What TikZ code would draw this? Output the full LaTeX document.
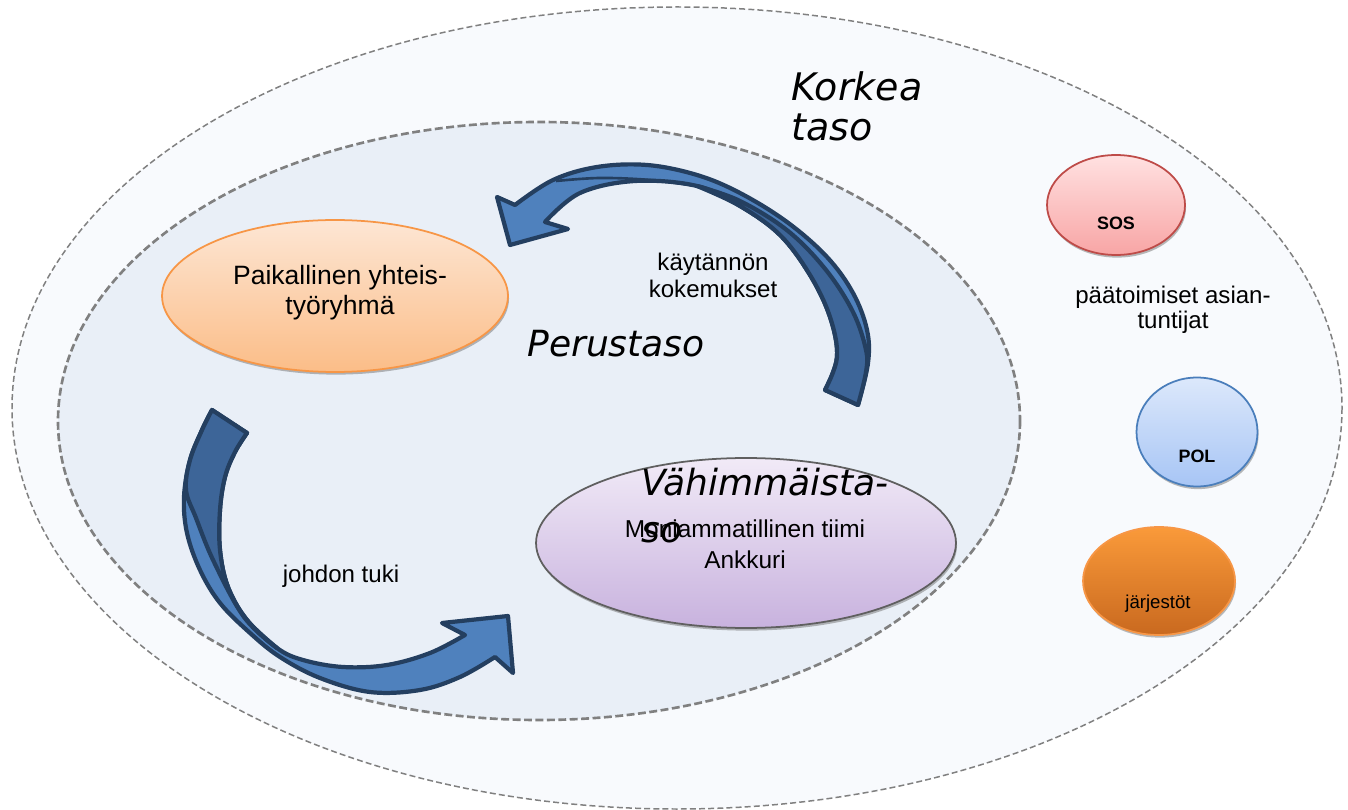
\documentclass[tikz,border=0pt]{standalone}
\usepackage{fontspec}
\setmainfont{Liberation Sans}
\newfontfamily\verdfont{DejaVu Sans}
\usetikzlibrary{shapes.geometric,shadows}

\definecolor{tasoulko}{HTML}{F8FAFD}
\definecolor{tasosisa}{HTML}{E9EFF7}
\definecolor{viiva}{HTML}{808080}
\definecolor{nuolitumma}{HTML}{3D6598}
\definecolor{nuolivaalea}{HTML}{4F81BD}
\definecolor{nuolireuna}{HTML}{243F60}
\definecolor{oranssireuna}{HTML}{F79646}
\definecolor{oranssiyla}{HTML}{FDE6D4}
\definecolor{oranssiala}{HTML}{FBBD88}
\definecolor{violettireuna}{HTML}{5F5F5F}
\definecolor{violettiyla}{HTML}{F1EAF7}
\definecolor{violettiala}{HTML}{C8B2DE}
\definecolor{punainenreuna}{HTML}{BE4B48}
\definecolor{punainenyla}{HTML}{FFE1E1}
\definecolor{punainenala}{HTML}{F8A5A5}
\definecolor{sininenreuna}{HTML}{4A7EBB}
\definecolor{sininenyla}{HTML}{DCE8FB}
\definecolor{sininenala}{HTML}{A7C5F5}
\definecolor{jarjestoyla}{HTML}{FA9A3A}
\definecolor{jarjestoala}{HTML}{C9691F}

\tikzset{
  kupla/.style={ellipse, inner sep=0pt, line width=1pt,
    drop shadow={shadow xshift=0.6pt, shadow yshift=-1.5pt, fill=black!55, opacity=0.5}},
  nuoli/.style={draw=nuolireuna, line width=2.4pt, line join=round},
  teksti/.style={inner sep=0pt, align=center, font=\fontsize{13.7}{15.4}\selectfont},
  pieni/.style={inner sep=0pt, font=\fontsize{10.2}{12}\selectfont},
  taso/.style={inner sep=0pt, align=left, font=\verdfont\itshape\fontsize{20.5}{26.7}\selectfont}
}

\begin{document}
\begin{tikzpicture}[x=0.02cm, y=-0.02cm]
\useasboundingbox (0,0) rectangle (1348,810);
\fill[white] (0,0) rectangle (1348,810);
% Korkea taso
\filldraw[fill=tasoulko, draw=viiva, line width=0.85pt, dash pattern=on 3.4pt off 1.8pt] (677,408) ellipse [x radius=665, y radius=401];
% Perustaso
\filldraw[fill=tasosisa, draw=viiva, line width=1.5pt, dash pattern=on 4.5pt off 2pt] (539,421) ellipse [x radius=481, y radius=299];
% Ryhmat
\node[kupla, draw=oranssireuna, top color=oranssiyla, bottom color=oranssiala, minimum width=6.92cm, minimum height=3.04cm] (paikallinen) at (335,296) {};
\node[kupla, draw=violettireuna, top color=violettiyla, bottom color=violettiala, minimum width=8.4cm, minimum height=3.4cm] (ankkuri) at (746,543) {};
\node[kupla, draw=punainenreuna, top color=punainenyla, bottom color=punainenala, minimum width=2.76cm, minimum height=2cm] (sos) at (1116,205) {};
\node[kupla, draw=sininenreuna, top color=sininenyla, bottom color=sininenala, minimum width=2.42cm, minimum height=2.18cm] (pol) at (1197,432) {};
\node[kupla, draw=oranssireuna, top color=jarjestoyla, bottom color=jarjestoala, minimum width=3.04cm, minimum height=2.16cm] (jarjestot) at (1159,581) {};
% Tekstit
\node[teksti, font=\fontsize{15.1}{17.1}\selectfont] (paikallinenteksti) at (340,293) {Paikallinen yhteis-\\työryhmä};
\node[teksti, font=\fontsize{13.9}{17.6}\selectfont] (ankkuriteksti) at (745,544) {Moniammatillinen tiimi\\Ankkuri};
\node[teksti] (kokemukset) at (713,275) {käytännön\\kokemukset};
\node[teksti, anchor=base] (tuki) at (341,582) {johdon tuki};
\node[teksti, font=\fontsize{13.7}{14.2}\selectfont] (asiantuntijat) at (1173,310) {päätoimiset asian-\\tuntijat};
\node[pieni, anchor=base, font=\bfseries\fontsize{10.2}{12}\selectfont] (sosteksti) at (1116,230) {SOS};
\node[pieni, anchor=base, font=\bfseries\fontsize{10.2}{12}\selectfont] (polteksti) at (1197,462) {POL};
\node[pieni, anchor=base, font=\fontsize{10.6}{12}\selectfont] (jarjestotteksti) at (1158,608) {järjestöt};
\node[taso, anchor=west, font=\verdfont\itshape\fontsize{21.6}{22.8}\selectfont] (korkea) at (791,106) {Korkea\\taso};
\node[taso, anchor=base west] (perustaso) at (527,357) {Perustaso};
\node[taso, anchor=west] (vahimmaistaso) at (641,506) {Vähimmäista-\\so};
% Nuoli ylhaalla
\path[nuoli, fill=nuolivaalea] plot[smooth, tension=0.6] coordinates {(858,405) (868,363) (867,330) (853,293) (827,257) (787,222) (740,193) (697,175) (647,165) (597,167) (553,180) (515,205)}
  -- (497,197) -- (510,245) -- (568,229) -- (545,222)
  -- plot[smooth, tension=0.6] coordinates {(545,222) (580,193) (635,181) (697,186) (740,206) (780,235) (810,275) (830,317) (837,357) (825,390)} -- cycle;
\path[nuoli, fill=nuolitumma] plot[smooth, tension=0.6] coordinates {(697,186) (740,201) (788,231) (826,270) (853,312) (866,350) (866,372) (858,405)}
  -- (825,390) -- plot[smooth, tension=0.6] coordinates {(825,390) (837,357) (830,317) (810,275) (780,235) (740,206) (697,186)} -- cycle;
\draw[nuoli, line width=1.5pt] plot[smooth, tension=0.6] coordinates {(556,181) (600,178) (650,180) (697,186)};
% Nuoli alhaalla
\path[nuoli, fill=nuolivaalea] plot[smooth, tension=0.6] coordinates {(212,410) (202,430) (190,460) (184,497) (187,533) (200,570) (220,603) (250,633) (280,657) (320,678) (370,692) (420,690) (460,677) (495,657)}
  -- (513,673) -- (508,616) -- (442,623) -- (465,635)
  -- plot[smooth, tension=0.6] coordinates {(465,635) (430,653) (387,665) (343,667) (303,660) (277,648) (247,620) (228,587) (220,550) (220,510) (225,477) (235,452) (247,433)} -- cycle;
\path[nuoli, fill=nuolitumma] plot[smooth, tension=0.6] coordinates {(277,648) (244,617) (214,562) (196,518) (186,490) (190,460) (202,430) (212,410)}
  -- (247,433) -- plot[smooth, tension=0.6] coordinates {(247,433) (235,452) (225,477) (220,510) (220,550) (228,587) (247,620) (277,648)} -- cycle;
\end{tikzpicture}
\end{document}
